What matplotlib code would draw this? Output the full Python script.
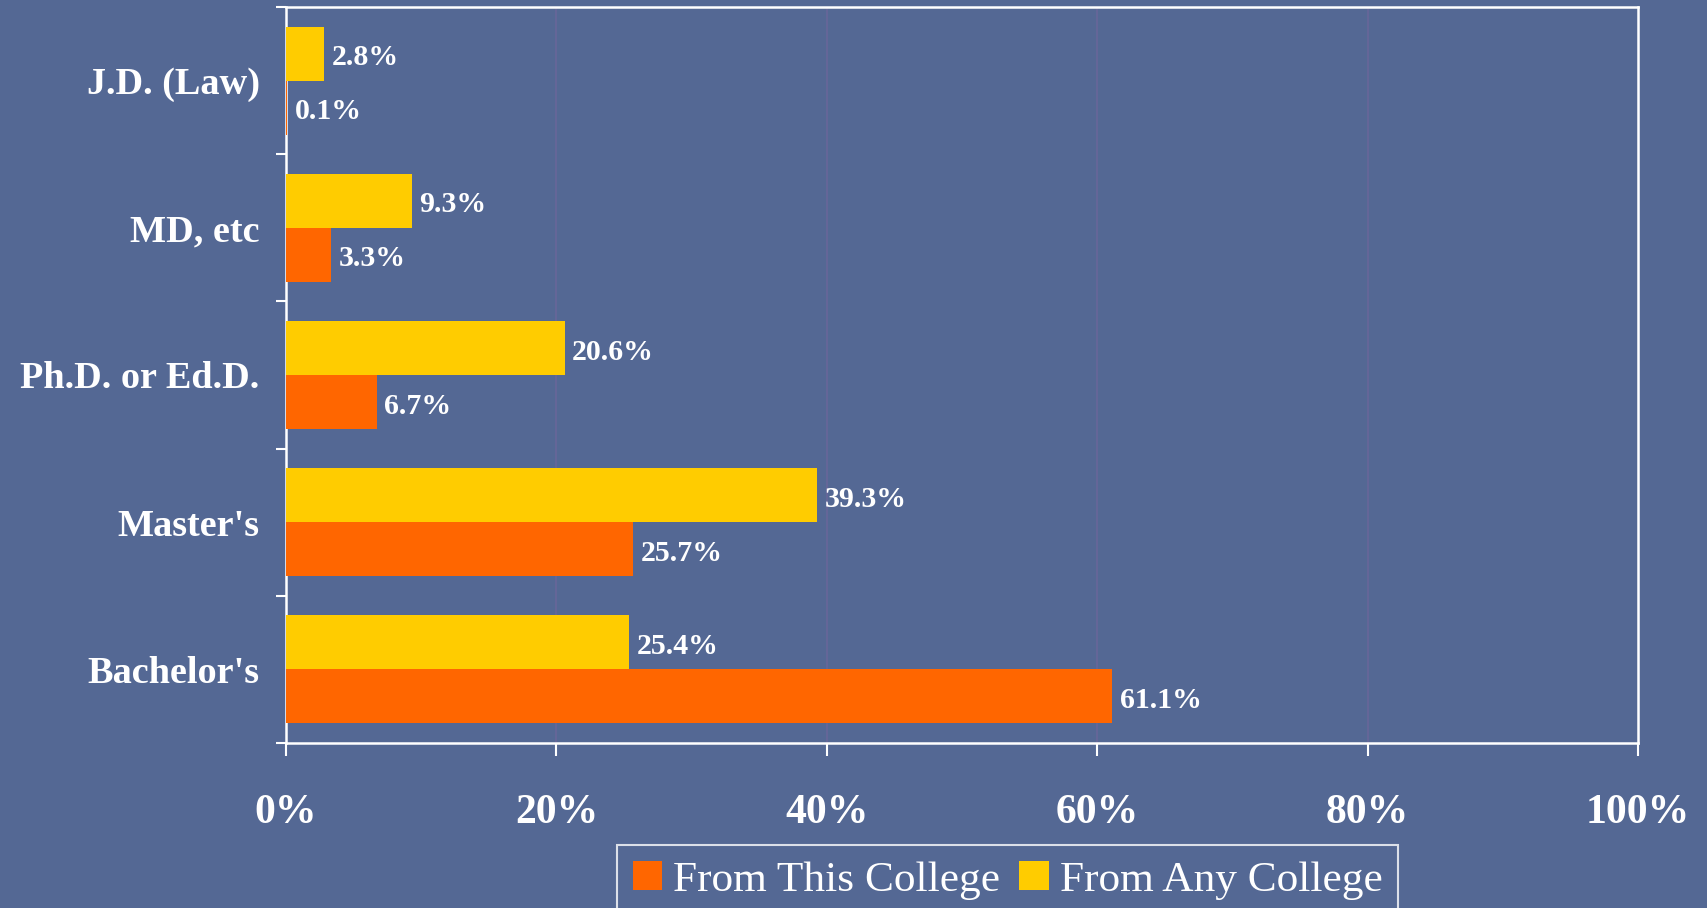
import matplotlib
matplotlib.use("Agg")
import matplotlib.pyplot as plt
import numpy as np

# Degree categories, listed top to bottom
categories = ["J.D. (Law)", "MD, etc", "Ph.D. or Ed.D.", "Master's", "Bachelor's"]
this_college = [0.1, 3.3, 6.7, 25.7, 61.1]
any_college = [2.8, 9.3, 20.6, 39.3, 25.4]
x_ticks = [0, 20, 40, 60, 80, 100]
x_tick_labels = ["0%", "20%", "40%", "60%", "80%", "100%"]
series_names = ["From This College", "From Any College"]

BG = "#546894"
ORANGE = "#FF6600"
YELLOW = "#FFCC00"
GRID = "#68669a"

plt.rcParams["font.family"] = ["Liberation Serif", "DejaVu Serif"]

fig = plt.figure(figsize=(17.08, 9.08), dpi=100, facecolor=BG)
ax = fig.add_axes([286 / 1708, 1 - 743 / 908, (1638 - 286) / 1708, (743 - 7) / 908])
ax.set_facecolor(BG)

y = np.arange(len(categories))
h = 0.367
b_this = ax.barh(y + h / 2, this_college, height=h, color=ORANGE, label=series_names[0], zorder=3)
b_any = ax.barh(y - h / 2, any_college, height=h, color=YELLOW, label=series_names[1], zorder=3)

for bars in (b_this, b_any):
    labels = ax.bar_label(bars, fmt="%.1f%%", padding=5.5, color="white", fontsize=21.5,
                          fontweight="bold")
    for lab in labels:
        lab.xyann = (5.5, -3.0)

ax.set_xlim(0, 100)
ax.set_ylim(len(categories) - 0.5, -0.5)

ax.set_xticks(x_ticks)
ax.set_xticklabels(x_tick_labels, fontsize=30, fontweight="bold", color="white")
ax.tick_params(axis="x", which="major", direction="out", length=9, width=1.5,
               color="white", pad=28)

ax.set_yticks(y)
ax.set_yticklabels(categories, fontsize=27.5, fontweight="bold", color="white")
ax.tick_params(axis="y", which="major", length=0, pad=19)
ax.set_yticks(np.arange(-0.5, len(categories), 1.0), minor=True)
ax.tick_params(axis="y", which="minor", direction="out", length=7.2, width=1.5,
               color="white")

for gx in x_ticks[1:-1]:
    ax.axvline(gx, color=GRID, linewidth=1.2, zorder=1)

for side in ("left", "right", "top", "bottom"):
    ax.spines[side].set_color("white")
    ax.spines[side].set_linewidth(1.8)

leg = fig.legend(handles=[b_this, b_any], labels=series_names, loc="upper left",
                 bbox_to_anchor=(617 / 1708, 1 - 845 / 908), ncol=2, fontsize=31.2,
                 frameon=True, fancybox=False, facecolor=BG, edgecolor="white",
                 handlelength=0.68, handleheight=0.68, handletextpad=0.25,
                 columnspacing=0.45, borderpad=0.36, borderaxespad=0)
leg.get_frame().set_linewidth(1.5)
for t in leg.get_texts():
    t.set_color("white")

fig.savefig("out.png", dpi=100, facecolor=BG)
